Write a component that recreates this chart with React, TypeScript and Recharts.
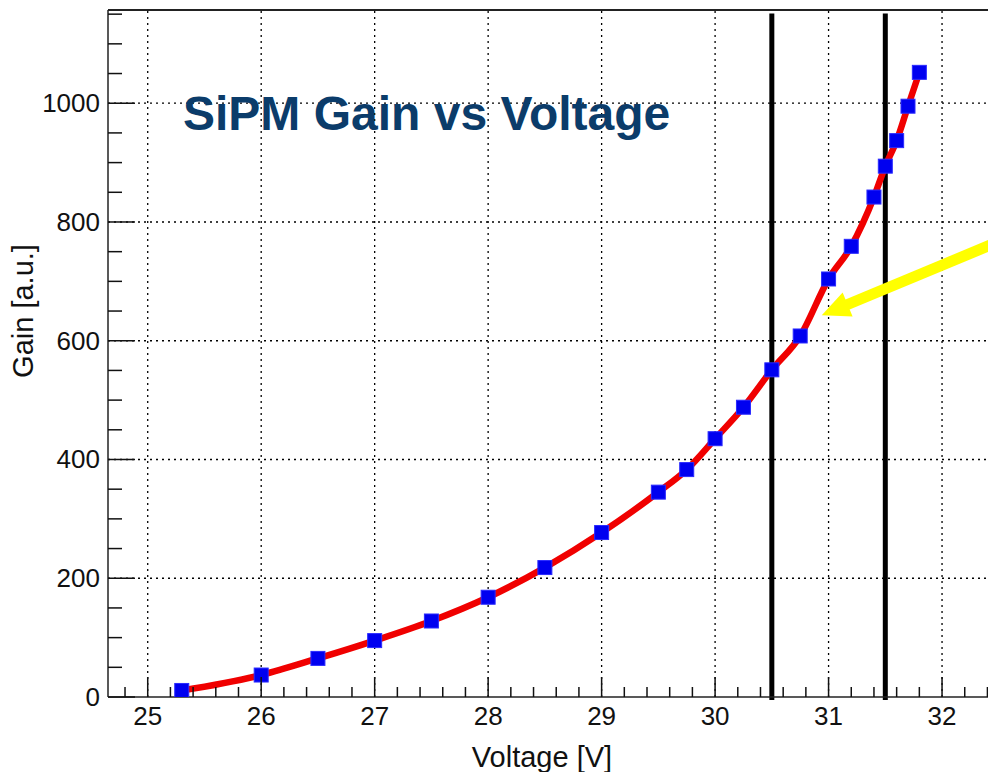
import React from "react";
import {
  LineChart,
  Line,
  XAxis,
  YAxis,
  ReferenceLine,
} from "recharts";

// measured points (bias voltage in V, gain in a.u.)
const voltage = [
  25.3, 26, 26.5, 27, 27.5, 28, 28.5, 29, 29.5, 29.75, 30, 30.25, 30.5, 30.75,
  31, 31.2, 31.4, 31.5, 31.6, 31.7, 31.8,
];
const gain = [
  11, 37, 65, 95, 128, 168, 218, 277, 345, 383, 435, 488, 551, 608, 704, 759,
  842, 894, 937, 995, 1052,
];

const xMajor = [25, 26, 27, 28, 29, 30, 31, 32];
const yMajor = [0, 200, 400, 600, 800, 1000];
const xDomain = [24.65, 32.405];
const yDomain = [0, 1157];

// operating window marked with the two black lines
const windowEdges = [30.5, 31.5];
// yellow arrow: tail (outside right) -> tip
const arrowTail = { x: 32.5, y: 767 };
const arrowTip = { x: 30.94, y: 643 };

const xTicks = Array.from({ length: 39 }, (_, i) => +(24.8 + i * 0.2).toFixed(1));
const yTicks = Array.from({ length: 24 }, (_, i) => i * 50);

const data = voltage.map((v, i) => ({ v, gain: gain[i] }));

const FONT = "'Liberation Sans', Arial, Helvetica, sans-serif";

const isMajor = (v: number, step: number) =>
  Math.abs(v / step - Math.round(v / step)) < 1e-6;

function XTick(props: any) {
  const { x, y, payload } = props;
  const v = payload.value;
  const major = isMajor(v, 1);
  return (
    <g>
      <line x1={x} x2={x} y1={y} y2={y - (major ? 20 : 10)} stroke="#111" strokeWidth={1.5} />
      {major && (
        <text x={x} y={y + 28} textAnchor="middle" fontSize={26} fontFamily={FONT} fill="#111">
          {Math.round(v)}
        </text>
      )}
    </g>
  );
}

function YTick(props: any) {
  const { x, y, payload } = props;
  const v = payload.value;
  const major = isMajor(v, 200);
  return (
    <g>
      <line x1={x} x2={x + (major ? 27 : 14)} y1={y} y2={y} stroke="#111" strokeWidth={1.5} />
      {major && (
        <text x={x - 8} y={y + 9} textAnchor="end" fontSize={26} fontFamily={FONT} fill="#111">
          {v}
        </text>
      )}
    </g>
  );
}

function SquareDot(props: any) {
  const { cx, cy } = props;
  if (cx == null || cy == null) return null;
  const s = 14;
  return (
    <rect x={cx - s / 2} y={cy - s / 2} width={s} height={s} fill="#0000f0" stroke="#2a2aff" strokeWidth={1} />
  );
}

function Arrow(props: any) {
  const { x1, y1, x2, y2 } = props;
  const dx = x2 - x1;
  const dy = y2 - y1;
  const len = Math.sqrt(dx * dx + dy * dy);
  const ux = dx / len;
  const uy = dy / len;
  const headLen = 28;
  const headHalf = 13;
  const bx = x2 - ux * headLen;
  const by = y2 - uy * headLen;
  return (
    <g>
      <line x1={x1} y1={y1} x2={bx + ux * 2} y2={by + uy * 2} stroke="#ffff00" strokeWidth={11} />
      <polygon
        points={`${x2},${y2} ${bx - uy * headHalf},${by + ux * headHalf} ${bx + uy * headHalf},${by - ux * headHalf}`}
        fill="#ffff00"
      />
    </g>
  );
}

export default function App() {
  return (
    <div style={{ position: "absolute", left: 0, top: 0, width: 988, height: 772, background: "#fff" }}>
      <LineChart
        width={988}
        height={772}
        data={data}
        margin={{ top: 10, right: 0, bottom: 0, left: 0 }}
      >
        <XAxis
          dataKey="v"
          type="number"
          domain={xDomain}
          ticks={xTicks}
          interval={0}
          height={75}
          tickSize={0}
          tickMargin={0}
          tick={<XTick />}
          axisLine={{ stroke: "#222", strokeWidth: 1.5 }}
          allowDataOverflow
        />
        <YAxis
          type="number"
          domain={yDomain}
          ticks={yTicks}
          interval={0}
          width={108}
          tickSize={0}
          tickMargin={0}
          tick={<YTick />}
          axisLine={{ stroke: "#222", strokeWidth: 1.5 }}
          allowDataOverflow
        />
        {xMajor.map((v) => (
          <ReferenceLine key={"gx" + v} x={v} stroke="#000" strokeDasharray="2 4" strokeWidth={1.3} />
        ))}
        {yMajor.slice(1).map((v) => (
          <ReferenceLine key={"gy" + v} y={v} stroke="#000" strokeDasharray="2 4" strokeWidth={1.3} />
        ))}
        <ReferenceLine y={yDomain[1]} stroke="#222" strokeWidth={2} ifOverflow="visible" />
        {windowEdges.map((v) => (
          <ReferenceLine
            key={"w" + v}
            segment={[
              { x: v, y: -5 },
              { x: v, y: 1151 },
            ]}
            stroke="#000"
            strokeWidth={5}
            ifOverflow="visible"
          />
        ))}
        <Line
          type="monotone"
          dataKey="gain"
          stroke="#f00000"
          strokeWidth={6.5}
          dot={<SquareDot />}
          activeDot={false}
          isAnimationActive={false}
        />
        <ReferenceLine
          segment={[arrowTail, arrowTip]}
          ifOverflow="visible"
          shape={(p: any) => <Arrow {...p} />}
        />
      </LineChart>
      <svg
        width={988}
        height={772}
        style={{ position: "absolute", left: 0, top: 0, pointerEvents: "none" }}
      >
        <text x={183} y={130} fontSize={48} fontWeight="bold" fontFamily={FONT} fill="#0b3c6a">
          SiPM Gain vs Voltage
        </text>
        <text x={542} y={767} textAnchor="middle" fontSize={29} fontFamily={FONT} fill="#111">
          Voltage [V]
        </text>
        <text
          x={33}
          y={311}
          textAnchor="middle"
          fontSize={29}
          fontFamily={FONT}
          fill="#111"
          transform="rotate(-90 33 311)"
        >
          Gain [a.u.]
        </text>
      </svg>
    </div>
  );
}
